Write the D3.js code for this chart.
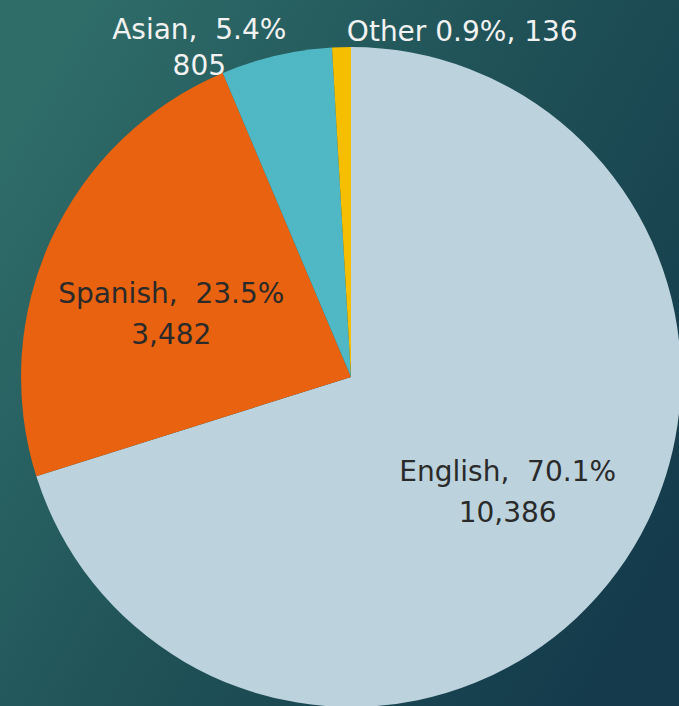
<!DOCTYPE html>
<html>
<head>
<meta charset="utf-8">
<script src="https://cdn.jsdelivr.net/npm/d3@7"></script>
<style>
  html, body { margin: 0; padding: 0; overflow: hidden; }
  #main { width: 679px; height: 706px; }
  text { white-space: pre; }
</style>
</head>
<body>
<div id="main"></div>
<script>
// chart data
const categories = ["English", "Spanish", "Asian", "Other"];
const counts = [10386, 3482, 805, 136];
const percents = ["70.1%", "23.5%", "5.4%", "0.9%"];
const colors = ["#bcd2dc", "#e8620f", "#4fb8c4", "#f5bf00"];

function createChart() {
    d3.select("#main svg").remove();

    const width = 679, height = 706;
    const cx = 351, cy = 377, radius = 330;

    const svg = d3.select("#main").append("svg")
        .attr("width", width)
        .attr("height", height);

    // background gradient
    const defs = svg.append("defs");
    const grad = defs.append("linearGradient")
        .attr("id", "bg")
        .attr("x1", "0%").attr("y1", "20%")
        .attr("x2", "100%").attr("y2", "80%");
    grad.append("stop").attr("offset", "0%").attr("stop-color", "#2f6d69");
    grad.append("stop").attr("offset", "50%").attr("stop-color", "#1f5157");
    grad.append("stop").attr("offset", "100%").attr("stop-color", "#143a4b");

    svg.append("rect")
        .attr("width", width)
        .attr("height", height)
        .attr("fill", "url(#bg)");

    const fmt = d3.format(",");
    const data = categories.map((c, i) => ({ name: c, value: counts[i], pct: percents[i], color: colors[i] }));

    const pie = d3.pie().sort(null).value(d => d.value);
    const arc = d3.arc().innerRadius(0).outerRadius(radius);
    const labelArc = d3.arc().innerRadius(radius * 0.6).outerRadius(radius * 0.6);
    const outerArc = d3.arc().innerRadius(radius + 22).outerRadius(radius + 22);

    const arcs = pie(data);

    const g = svg.append("g").attr("transform", `translate(${cx},${cy})`);

    g.selectAll("path")
        .data(arcs)
        .enter().append("path")
        .attr("d", arc)
        .attr("fill", d => d.data.color);

    const font = "'DejaVu Sans', sans-serif";
    const fsize = 28;
    const weight = "normal";

    // inside labels (two lines), small nudges per slice
    const nudge = [[-3, -13], [0, 9]];
    arcs.slice(0, 2).forEach((d, i) => {
        const [x0, y0] = labelArc.centroid(d);
        const x = x0 + nudge[i][0], y = y0 + nudge[i][1];
        const t = g.append("text")
            .attr("text-anchor", "middle")
            .attr("font-family", font)
            .attr("font-size", fsize)
            .attr("font-weight", weight)
            .attr("fill", "#2a2a2a");
        t.append("tspan").attr("x", x).attr("y", y).text(`${d.data.name},  ${d.data.pct}`);
        t.append("tspan").attr("x", x).attr("y", y + 41).text(fmt(d.data.value));
    });

    // Asian label outside
    const a = arcs[2];
    const [ax, ay] = outerArc.centroid(a);
    const ta = g.append("text")
        .attr("text-anchor", "middle")
        .attr("font-family", font)
        .attr("font-size", fsize)
        .attr("font-weight", weight)
        .attr("fill", "#f2f2f2");
    ta.append("tspan").attr("x", ax - 72).attr("y", ay + 5).text(`${a.data.name},  ${a.data.pct}`);
    ta.append("tspan").attr("x", ax - 72).attr("y", ay + 41).text(fmt(a.data.value));

    // Other label outside
    const o = arcs[3];
    const [ox, oy] = outerArc.centroid(o);
    g.append("text")
        .attr("x", ox + 6)
        .attr("y", oy + 16)
        .attr("text-anchor", "start")
        .attr("font-family", font)
        .attr("font-size", fsize)
        .attr("font-weight", weight)
        .attr("fill", "#f2f2f2")
        .text(`${o.data.name} ${o.data.pct}, ${fmt(o.data.value)}`);
}

document.addEventListener("DOMContentLoaded", function() {
    createChart();
});
</script>
</body>
</html>
